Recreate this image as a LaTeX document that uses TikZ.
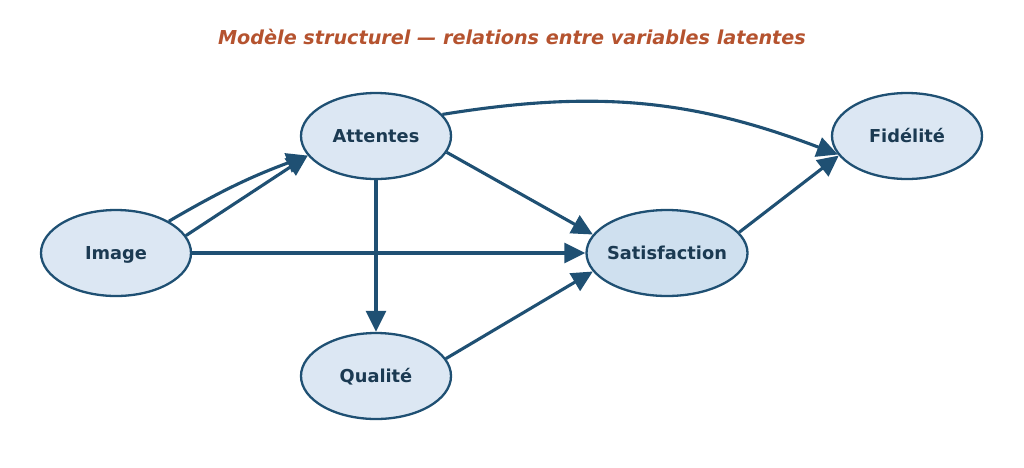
\documentclass[tikz,border=0pt]{standalone}
\usepackage{fontspec}
\setmainfont{DejaVu Sans}
\usetikzlibrary{shapes.geometric,arrows.meta}
\definecolor{edgec}{HTML}{1F5073}
\definecolor{txtc}{HTML}{1B3A52}
\definecolor{fillc}{HTML}{DCE7F3}
\definecolor{fillsat}{HTML}{CFE0EF}
\definecolor{titlec}{HTML}{B5532F}
\begin{document}
\begin{tikzpicture}[x=1pt,y=-1pt,
  latent/.style={ellipse,draw=edgec,line width=2.3pt,fill=fillc,minimum width=150pt,minimum height=86pt,inner sep=0pt,
    text height=13pt,text depth=0pt,
    font=\fontsize{17.8}{20}\selectfont\bfseries,text=txtc},
  path/.style={draw=edgec,line width=3.1pt,-{Triangle[length=21pt,width=20pt]}}]
\useasboundingbox (0,0) rectangle (1024,467);
\node[font=\fontsize{19.2}{22}\selectfont\bfseries\itshape,text=titlec] (title) at (512,37) {Modèle structurel — relations entre variables latentes};
\node[latent] (img) at (116,253) {Image};
\node[latent] (att) at (376,136) {Attentes};
\node[latent] (qual) at (376,376) {Qualité};
\node[latent,fill=fillsat,minimum width=161pt,inner xsep=-4pt] (sat) at (667,253) {Satisfaction};
\node[latent] (fid) at (907,136) {Fidélité};
\draw[path] (img.14) -- (att.196);
\draw[path] (img.31) to[bend left=5] (att.196);
\draw[path] (img.east) -- (sat.west);
\draw[path] (att.south) -- (qual.north);
\draw[path] (att.-13) -- (sat.166);
\draw[path] (qual.14) -- (sat.194);
\draw[path] (sat.16) -- (fid.196);
\draw[path] (att.18) to[bend left=15] (fid.195);
\end{tikzpicture}
\end{document}
